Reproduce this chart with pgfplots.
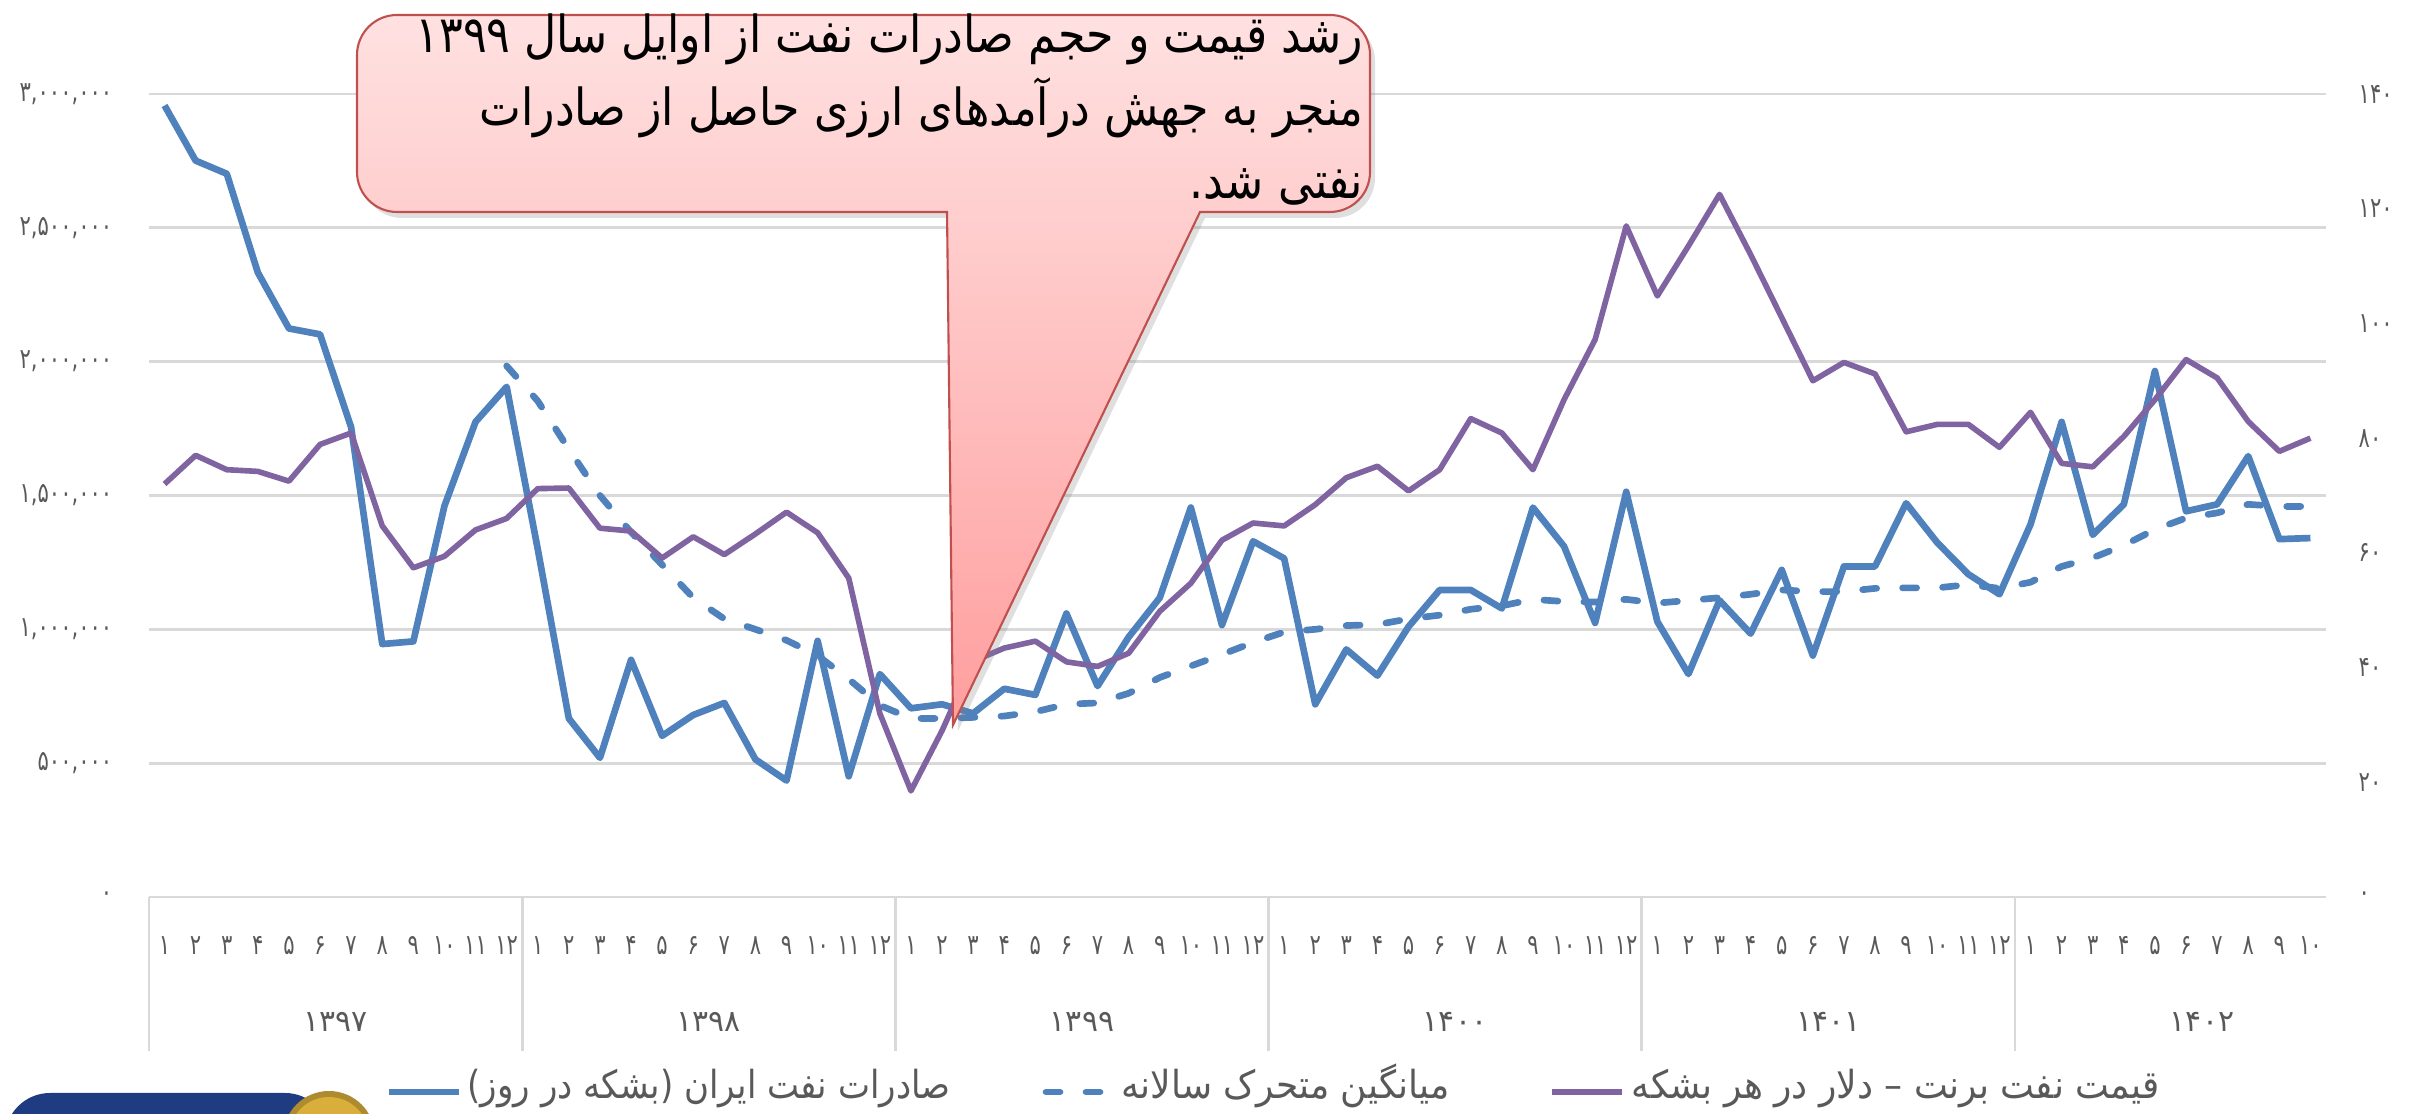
\documentclass[border=0pt]{standalone}
\usepackage{fontspec}
\usepackage{pgfplots}
\usepackage{pgfplotstable}
\pgfplotsset{compat=1.18}
\usetikzlibrary{shadows}
\TeXXeTstate=1
\newfontfamily\fa[Script=Arabic]{DejaVu Sans}
\newfontfamily\falg[Script=Arabic,FakeStretch=0.93]{DejaVu Sans}
\newfontfamily\falgb[Script=Arabic,FakeStretch=0.88]{DejaVu Sans}
\newfontfamily\fabox[Script=Arabic,FakeStretch=0.87]{DejaVu Sans}
\newfontfamily\fanum[Script=Arabic,FakeStretch=0.75]{DejaVu Sans}
\definecolor{cblue}{HTML}{4F81BD}
\definecolor{cpurple}{HTML}{8064A2}
\definecolor{cgrid}{HTML}{D9D9D9}
\definecolor{ctext}{HTML}{595959}
\definecolor{cborder}{HTML}{C0504D}
\definecolor{cnavy}{HTML}{1F3C82}
\definecolor{cgold}{HTML}{D9AE3A}
\definecolor{ctop}{HTML}{FFE1E1}
\definecolor{cbot}{HTML}{FF9E9E}

\pgfplotstableread{
i E P
0 2957000 72.0
1 2751000 77.0
2 2702000 74.5
3 2333000 74.2
4 2124000 72.5
5 2102000 78.9
6 1755000 80.9
7 945000 64.7
8 955000 57.4
9 1461000 59.4
10 1775000 64.0
11 1906000 66.0
12 1300000 71.2
13 667000 71.3
14 520000 64.3
15 886000 63.8
16 602000 59.1
17 680000 62.8
18 725000 59.7
19 514000 63.3
20 435000 67.1
21 957000 63.5
22 451000 55.6
23 833000 32.0
24 705000 18.5
25 720000 29.0
26 686000 41.1
27 778000 43.4
28 755000 44.6
29 1059000 41.0
30 788000 40.2
31 971000 42.5
32 1118000 49.8
33 1455000 54.7
34 1016000 62.2
35 1329000 65.2
36 1265000 64.7
37 720000 68.4
38 925000 73.1
39 827000 75.1
40 1010000 70.8
41 1147000 74.5
42 1147000 83.4
43 1078000 80.9
44 1455000 74.5
45 1310000 86.7
46 1024000 97.2
47 1514000 117.0
48 1029000 104.8
49 833000 113.5
50 1108000 122.5
51 984000 112.0
52 1222000 101.0
53 902000 90.0
54 1235000 93.2
55 1235000 91.2
56 1471000 81.1
57 1324000 82.4
58 1206000 82.4
59 1131000 78.4
60 1392000 84.5
61 1775000 75.6
62 1353000 75.0
63 1467000 80.3
64 1965000 86.7
65 1441000 93.7
66 1467000 90.5
67 1647000 82.9
68 1337000 77.7
69 1341000 80.0
}\data

\pgfplotstableread{
i M
11 1984000
12 1853000
13 1673000
14 1500000
15 1363000
16 1241000
17 1118000
18 1039000
19 1000000
20 959000
21 902000
22 814000
23 716000
24 667000
25 667000
26 671000
27 676000
28 692000
29 720000
30 725000
31 761000
32 820000
33 863000
34 906000
35 951000
36 990000
37 1000000
38 1014000
39 1018000
40 1039000
41 1053000
42 1075000
43 1088000
44 1112000
45 1104000
46 1102000
47 1112000
48 1098000
49 1108000
50 1118000
51 1131000
52 1147000
53 1141000
54 1141000
55 1153000
56 1155000
57 1155000
58 1167000
59 1153000
60 1176000
61 1235000
62 1267000
63 1314000
64 1373000
65 1416000
66 1435000
67 1467000
68 1459000
69 1459000
}\mavg

\begin{document}
\begin{tikzpicture}
\useasboundingbox (0,0) rectangle (241.2mm,111.4mm);

\begin{axis}[
  at={(14.9mm,21.7mm)}, anchor=south west, scale only axis,
  width=217.7mm, height=80.3mm,
  xmin=-0.5, xmax=69.5, ymin=0, ymax=3000000,
  axis x line*=bottom, axis y line*=left,
  x axis line style={-, draw=cgrid, line width=0.8pt},
  y axis line style={draw=none},
  scaled y ticks=false,
  ytick={0,500000,1000000,1500000,2000000,2500000,3000000},
  yticklabels={{۰},{۵۰۰,۰۰۰},{۱,۰۰۰,۰۰۰},{۱,۵۰۰,۰۰۰},{۲,۰۰۰,۰۰۰},{۲,۵۰۰,۰۰۰},{۳,۰۰۰,۰۰۰}},
  ymajorgrids, grid style={cgrid, line width=0.8pt},
  major tick length=0pt,
  tick style={draw=cgrid, line width=0.8pt},
  yticklabel style={font=\fanum\fontsize{8}{9}\selectfont, text=ctext, anchor=east, inner sep=0pt, xshift=-3.6mm},
  xtick={0,...,69},
  xticklabels={۱,۲,۳,۴,۵,۶,۷,۸,۹,۱۰,۱۱,۱۲,۱,۲,۳,۴,۵,۶,۷,۸,۹,۱۰,۱۱,۱۲,۱,۲,۳,۴,۵,۶,۷,۸,۹,۱۰,۱۱,۱۲,۱,۲,۳,۴,۵,۶,۷,۸,۹,۱۰,۱۱,۱۲,۱,۲,۳,۴,۵,۶,۷,۸,۹,۱۰,۱۱,۱۲,۱,۲,۳,۴,۵,۶,۷,۸,۹,۱۰},
  xticklabel style={font=\fanum\fontsize{8}{9}\selectfont, text=ctext, anchor=base, inner sep=0pt, yshift=-5.8mm},
  extra x ticks={-0.5,11.5,23.5,35.5,47.5,59.5},
  extra x tick labels={},
  extra x tick style={major tick length=15.4mm, tick align=outside, grid=none},
  clip=false,
]
\addplot[cblue, line width=1.9pt, line join=round] table[x=i,y=E]{\data};
\addplot[cblue, line width=1.9pt, line cap=round, dash pattern=on 1.4mm off 2.6mm] table[x=i,y=M]{\mavg};
\end{axis}

\begin{axis}[
  at={(14.9mm,21.7mm)}, anchor=south west, scale only axis,
  width=217.7mm, height=80.3mm,
  xmin=-0.5, xmax=69.5, ymin=0, ymax=140,
  axis x line=none, axis y line*=right,
  y axis line style={draw=none},
  major tick length=0pt,
  ytick={0,20,40,60,80,100,120,140},
  yticklabels={{۰},{۲۰},{۴۰},{۶۰},{۸۰},{۱۰۰},{۱۲۰},{۱۴۰}},
  yticklabel style={font=\fanum\fontsize{8}{9}\selectfont, text=ctext, anchor=west, inner sep=0pt, xshift=3.2mm},
  clip=false,
]
\addplot[cpurple, line width=1.6pt, line join=round] table[x=i,y=P]{\data};
\end{axis}

\begin{scope}[x=0.1mm,y=0.1mm]
% year labels
\foreach \xx/\yy in {335.6/۱۳۹۷, 708.8/۱۳۹۸, 1082/۱۳۹۹, 1455/۱۴۰۰, 1828.6/۱۴۰۱, 2202/۱۴۰۲}
  \node[anchor=base, inner sep=0pt, text=ctext, font=\fa\fontsize{8.5}{9}\selectfont] at (\xx,82) {\yy};

% callout
\path[draw=cborder, line width=0.6pt, top color=ctop, bottom color=cbot,
  drop shadow={opacity=0.25, shadow xshift=0.5mm, shadow yshift=-0.6mm}]
  (397,902) -- (947,902) -- (953,389) -- (1200,902) -- (1330,902)
  arc[start angle=270, end angle=360, radius=4mm] -- (1370,1059)
  arc[start angle=0, end angle=90, radius=4mm] -- (397,1099)
  arc[start angle=90, end angle=180, radius=4mm] -- (357,942)
  arc[start angle=180, end angle=270, radius=4mm] -- cycle;
\begin{scope}[every node/.style={anchor=base east, inner sep=0pt, font=\fabox\fontsize{14.5}{18}\selectfont}]
\node at (1364,1061) {\beginR رشد قیمت و حجم صادرات نفت از اوایل سال ۱۳۹۹\endR};
\node at (1364,988) {\beginR منجر به جهش درآمدهای ارزی حاصل از صادرات\endR};
\node at (1364,915) {\beginR نفتی شد\hbox{.}\endR};
\end{scope}

% legend
\begin{scope}[every node/.style={anchor=base west, inner sep=0pt, text=ctext, font=\falg\fontsize{11}{13}\selectfont}]
\draw[cblue, line width=1.9pt] (389,22) -- (459,22);
\node[font=\falgb\fontsize{11}{13}\selectfont] at (467,15) {\beginR صادرات نفت ایران (بشکه در روز)\endR};
\draw[cblue, line width=1.9pt, line cap=round, dash pattern=on 1.4mm off 2.6mm] (1046,22) -- (1109,22);
\node at (1121,15) {\beginR میانگین متحرک سالانه\endR};
\draw[cpurple, line width=1.9pt] (1552,22) -- (1622,22);
\node at (1631,15) {\beginR قیمت نفت برنت – دلار در هر بشکه\endR};
\end{scope}

% logo (partially visible)
\fill[cnavy, rounded corners=4.5mm] (5,-80) rectangle (330,21);
\fill[cgold!80!black] (329,-23) circle (4.6mm);
\fill[cgold] (329,-23) circle (4.0mm);
\end{scope}
\end{tikzpicture}
\end{document}
